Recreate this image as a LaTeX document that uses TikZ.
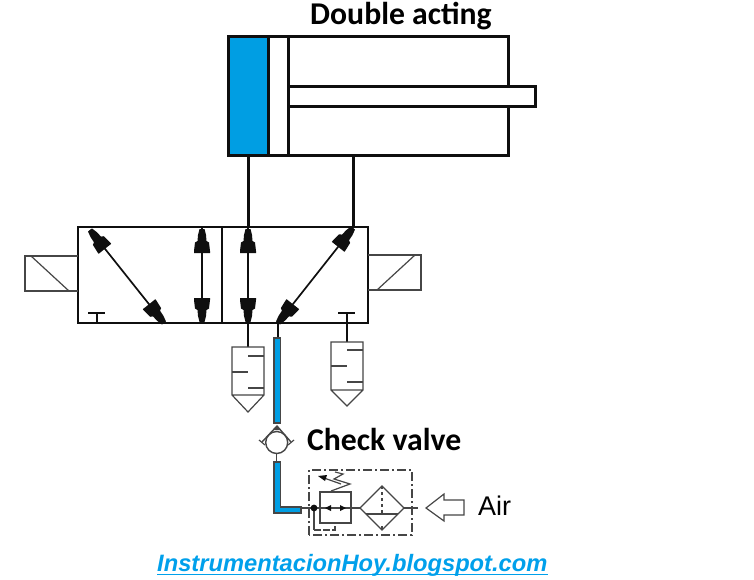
\documentclass[tikz,border=0pt]{standalone}
\usepackage{fontspec}
\setmainfont{Liberation Sans}
\newfontfamily\boldlabel{Carlito}
\definecolor{tubeblue}{RGB}{0,158,227}
\definecolor{linkblue}{RGB}{0,160,235}
\definecolor{ink}{RGB}{15,15,15}
\definecolor{soft}{RGB}{70,70,70}
\tikzset{
  heavy/.style={draw=ink,line width=3pt},
  valveline/.style={draw=ink,line width=2pt},
  thin part/.style={draw=soft,line width=1.2pt},
  tube/.style={draw=soft,fill=tubeblue,line width=1.1pt},
  conn/.style={draw=ink,line width=1.7pt},
  head/.pic={\fill[ink] (-2.5,0) -- (2.5,0) -- (4,6) -- (4.5,12) -- (7,13.5) -- (8,22) -- (8,24) -- (-8,24) -- (-8,22) -- (-7,13.5) -- (-4.5,12) -- (-4,6) -- cycle;}
}
\begin{document}
\begin{tikzpicture}[x=1pt,y=-1pt]
\useasboundingbox (0,0) rectangle (754,580);
\fill[white] (0,0) rectangle (754,580);
% cylinder
\fill[tubeblue] (228,37) rectangle (268,156);
\draw[heavy] (508,87) -- (508,37) -- (228,37) -- (228,156) -- (508,156) -- (508,107);
\draw[heavy] (268,37) -- (268,156);
\draw[heavy] (288,37) -- (288,156);
\draw[heavy] (288,87) -- (535,87) -- (535,107) -- (288,107);
\coordinate (cylA) at (248,156);
\coordinate (cylB) at (353,156);
% valve
\node[draw=none,inner sep=0,minimum size=0] (vA) at (248,227) {};
\node[draw=none,inner sep=0,minimum size=0] (vB) at (353,227) {};
\draw[conn,line width=3pt] (cylA) -- (vA);
\draw[conn,line width=3pt] (cylB) -- (vB);
\draw[valveline] (78,227) rectangle (368,323);
\draw[valveline] (222,227) -- (222,323);
% solenoids
\draw[thin part] (78,256) -- (25,256) -- (25,291) -- (78,291);
\draw[thin part] (31,256) -- (69,291);
\draw[thin part] (368,255) -- (421,255) -- (421,290) -- (368,290);
\draw[thin part] (415,255) -- (377,290);
% flow paths
\draw[conn] (90,230) -- (164,323);
\pic[rotate=38.5] at (90,230) {head};
\pic[rotate=218.5] at (164,323) {head};
\draw[conn] (202,227) -- (202,323);
\pic at (202,229) {head};
\pic[rotate=180] at (202,322) {head};
\draw[conn] (248,227) -- (248,323);
\pic at (248,229) {head};
\pic[rotate=180] at (248,322) {head};
\draw[conn] (353,228) -- (278,323);
\pic[rotate=-38.3] at (353,228) {head};
\pic[rotate=141.7] at (278,323) {head};
% exhaust ports
\draw[valveline,line width=1.4pt] (88,313) -- (105,313) (97,313) -- (97,323);
\draw[valveline,line width=1.4pt] (338,313) -- (355,313) (347,313) -- (347,342);
\draw[valveline,line width=1.4pt] (248,323) -- (248,347);
% silencers
\draw[thin part] (232,347) -- (264,347) -- (264,395) -- (248,412) -- (232,395) -- cycle (232,395) -- (264,395);
\draw[thin part] (248,356) -- (264,356) (232,372) -- (248,372) (248,388) -- (264,388);
\draw[thin part] (331,342) -- (363,342) -- (363,390) -- (347,406) -- (331,390) -- cycle (331,390) -- (363,390);
\draw[thin part] (347,350) -- (363,350) (331,366) -- (347,366) (347,382) -- (363,382);
% supply tube
\draw[valveline,line width=1.5pt] (278,323) -- (278,338);
\draw[tube] (274,338) rectangle (280.5,423);
% check valve
\node[circle,draw=soft,line width=1.4pt,minimum size=22pt,inner sep=0] (cv) at (276.7,442.5) {};
\draw[thin part,line width=1.4pt] (262,442) -- (277,426) -- (291,442);
\fill[soft] (277,426) -- (273,430) -- (281,430) -- cycle;
\draw[thin part] (259,440) -- (265,445) (294,440) -- (288,445);
\draw[thin part] (276.7,454) -- (276.7,462);
% lower tube
\draw[tube] (274,462) -- (280.5,462) -- (280.5,507) -- (301,507) -- (301,513) -- (274,513) -- cycle;
% conditioning unit
\draw[thin part,dash pattern=on 9pt off 3pt on 2pt off 3pt] (309,535) -- (309,470) -- (412,470) -- (412,535) -- cycle;
\draw[thin part] (301,508) -- (360,508);
\draw[thin part] (314,508) -- (314,530);
\draw[thin part,dash pattern=on 7pt off 2pt] (314,530) -- (335,530) -- (335,523);
\fill[ink] (314,508) circle (3.4pt);
\draw[thin part] (320,492) rectangle (351,523);
\fill[ink] (325,508) -- (331,505) -- (331,511) -- cycle;
\fill[ink] (346,508) -- (340,505) -- (340,511) -- cycle;
\draw[thin part] (331,491) -- (350,484) -- (334,479) -- (343,474) -- (335,472);
\draw[thin part] (324,478) -- (341,484);
\fill[ink] (318,476) -- (327,475) -- (325,481) -- cycle;
\draw[thin part] (382,486) -- (404,508) -- (382,530) -- (360,508) -- cycle;
\draw[thin part] (366,514) -- (398,514);
\draw[thin part,dashed] (382,486) -- (382,514);
\draw[thin part] (382,526) -- (382,530);
\draw[thin part] (404,508) -- (418,508);
% air arrow
\draw[thin part] (426,508) -- (444,494) -- (444,500) -- (464,500) -- (464,515) -- (444,515) -- (444,521) -- cycle;
% labels
\node[anchor=base west,inner sep=0,font=\fontsize{27pt}{27pt}\selectfont] (air) at (478,515) {Air};
\node[anchor=base west,inner sep=0,font=\fontsize{31.7pt}{31.7pt}\selectfont\boldlabel\bfseries] (title) at (310,25) {Double acting};
\node[anchor=base west,inner sep=0,font=\fontsize{31.7pt}{31.7pt}\selectfont\boldlabel\bfseries] (chk) at (307,450) {Check valve};
\node[anchor=base west,inner sep=0,font=\fontsize{23.7pt}{23.7pt}\selectfont\bfseries\itshape,text=linkblue] (url) at (157,571) {InstrumentacionHoy.blogspot.com};
\draw[linkblue,line width=1.3pt] (157,574.5) -- (548,574.5);
\end{tikzpicture}
\end{document}
